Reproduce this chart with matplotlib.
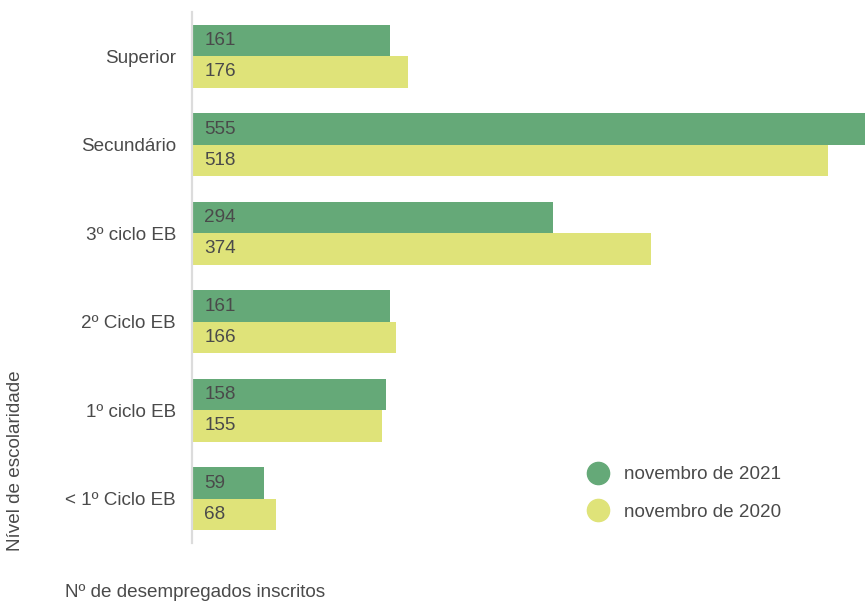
import matplotlib.pyplot as plt
import numpy as np
from matplotlib.lines import Line2D

plt.rcParams["font.family"] = ["Liberation Sans", "DejaVu Sans"]

niveis = ["Superior", "Secundário", "3º ciclo EB", "2º Ciclo EB", "1º ciclo EB", "< 1º Ciclo EB"]
nov_2021 = [161, 555, 294, 161, 158, 59]
nov_2020 = [176, 518, 374, 166, 155, 68]
series_labels = ["novembro de 2021", "novembro de 2020"]

GREEN = "#65a978"
YELLOW = "#dfe379"
TEXT = "#4a4a4a"
FS = 13.6

fig = plt.figure(figsize=(8.65, 6.03), dpi=100)
ax = fig.add_axes([0.222, 0.0995, 0.778, 0.8806])

y = np.arange(len(niveis))
h = 0.355
ax.barh(y - h / 2, nov_2021, height=h, color=GREEN)
ax.barh(y + h / 2, nov_2020, height=h, color=YELLOW)

# value labels just inside the bar start
for yi, v in zip(y - h / 2, nov_2021):
    ax.text(10, yi, str(v), va="center", ha="left", fontsize=FS, color=TEXT)
for yi, v in zip(y + h / 2, nov_2020):
    ax.text(10, yi, str(v), va="center", ha="left", fontsize=FS, color=TEXT)

ax.set_xlim(0, 548)
ax.set_ylim(len(niveis) - 0.5, -0.5)
ax.set_yticks(y)
ax.set_yticklabels(niveis, fontsize=FS, color=TEXT)
ax.tick_params(axis="y", length=0, pad=11.5)
ax.set_xticks([])
for side in ["top", "right", "bottom"]:
    ax.spines[side].set_visible(False)
ax.spines["left"].set_color("#dcdcdc")
ax.spines["left"].set_linewidth(1.6)

fig.text(0.018, 0.386, "Nível de escolaridade", rotation=90, ha="center", va="top",
         fontsize=FS, color=TEXT)
fig.text(0.075, 0.004, "Nº de desempregados inscritos", ha="left", va="bottom",
         fontsize=FS, color=TEXT)

handles = [
    Line2D([], [], marker="o", linestyle="none", markersize=16, color=GREEN),
    Line2D([], [], marker="o", linestyle="none", markersize=16, color=YELLOW),
]
fig.legend(handles, series_labels, loc="upper left", bbox_to_anchor=(0.658, 0.255),
           frameon=False, fontsize=FS, labelcolor=TEXT, handletextpad=0.8,
           labelspacing=1.05, handlelength=1.2)

fig.savefig("out.png", dpi=100)
